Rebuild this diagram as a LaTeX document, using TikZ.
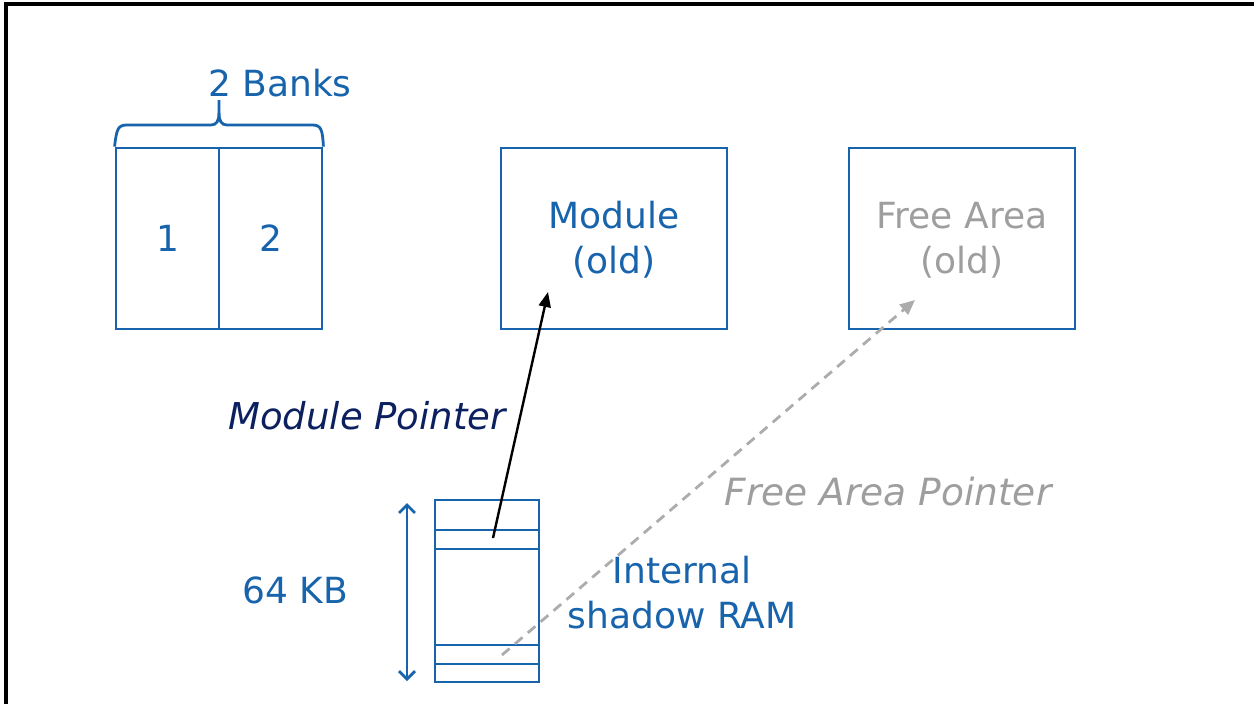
\documentclass[tikz,border=0pt]{standalone}
\usepackage{fontspec}
\setmainfont{DejaVu Sans}
\usetikzlibrary{arrows.meta,calc}
\definecolor{ifxblue}{RGB}{24,100,172}
\definecolor{navytext}{RGB}{12,32,96}
\definecolor{greytext}{RGB}{158,158,158}
\definecolor{greyline}{RGB}{172,172,172}
\tikzset{
  box/.style={draw=ifxblue, line width=2.8pt, inner sep=0pt, minimum width=226pt, minimum height=181pt},
  cell/.style={draw=ifxblue, line width=2.8pt, inner sep=0pt, minimum width=103pt, minimum height=181pt, text=ifxblue, font=\fontsize{36}{45}\selectfont},
  slot/.style={draw=ifxblue, line width=2.8pt, inner sep=0pt, minimum width=104pt, minimum height=19pt},
  lbl/.style={anchor=base, inner sep=0pt, font=\fontsize{36}{45}\selectfont},
  bluetext/.style={lbl, text=ifxblue},
  ptr/.style={black, line width=2.4pt, -{Triangle[length=15pt,width=12pt]}},
  dptr/.style={greyline, line width=2.8pt, dash pattern=on 10pt off 7pt, -{Triangle[length=15pt,width=13pt]}},
}
\begin{document}
\begin{tikzpicture}[x=1pt,y=-1pt]
\useasboundingbox (0,0) rectangle (1254,704);
% frame (top and left edges)
\draw[black, line width=3.2pt] (6,704) -- (6,4) -- (1254,4);

% banks
\node[cell] (bank1) at (167.5,238.5) {1};
\node[cell] (bank2) at (270.5,238.5) {2};
\draw[ifxblue, line width=2.8pt]
  (bank1.north west) .. controls (116.5,129) and (118,125) .. (127,125) -- (211,125)
  .. controls (216.5,125) and (219,121) .. (219,113) -- (219,100);
\draw[ifxblue, line width=2.8pt]
  (bank2.north east) .. controls (322.5,129) and (321,125) .. (312,125) -- (227,125)
  .. controls (221.5,125) and (219,121) .. (219,113);
\node[bluetext] (bankslbl) at (280,96) {2 Banks};

% module / free area boxes
\node[box] (module) at (614,238.5) {};
\node[bluetext] (modtxt1) at (614,228) {Module};
\node[bluetext] (modtxt2) at (614,273) {(old)};
\node[box] (free) at (962,238.5) {};
\node[lbl, text=greytext] (freetxt1) at (962,228) {Free Area};
\node[lbl, text=greytext] (freetxt2) at (962,273) {(old)};

% shadow RAM
\node[draw=ifxblue, line width=2.8pt, inner sep=0pt, minimum width=104pt, minimum height=182pt] (ram) at (487,591) {};
\node[slot] (slotA) at (487,539.5) {};
\node[slot] (slotB) at (487,654.5) {};
\coordinate (dimtop) at (407,503);
\coordinate (dimbot) at (407,681);
\draw[ifxblue, line width=2.8pt, {Straight Barb[length=8pt,width=16pt]}-{Straight Barb[length=8pt,width=16pt]}] (dimtop) -- (dimbot);
\node[bluetext] (kb) at (295,603) {64 KB};
\node[bluetext] (ramtxt1) at (682,583) {Internal};
\node[bluetext] (ramtxt2) at (682,628) {shadow RAM};

% pointers
\coordinate (pA) at (493,538);
\coordinate (pAend) at (548,292);
\draw[ptr] (pA) -- (pAend);
\coordinate (pB) at (502,655);
\coordinate (pBend) at (915,300);
\draw[dptr] (pB) -- (pBend);
\node[lbl, text=navytext, font=\fontsize{37}{45}\selectfont\itshape] (mp) at (367,429) {Module Pointer};
\node[lbl, text=greytext, font=\fontsize{37.5}{45}\selectfont\itshape] (fp) at (888,505) {Free Area Pointer};
\end{tikzpicture}
\end{document}
